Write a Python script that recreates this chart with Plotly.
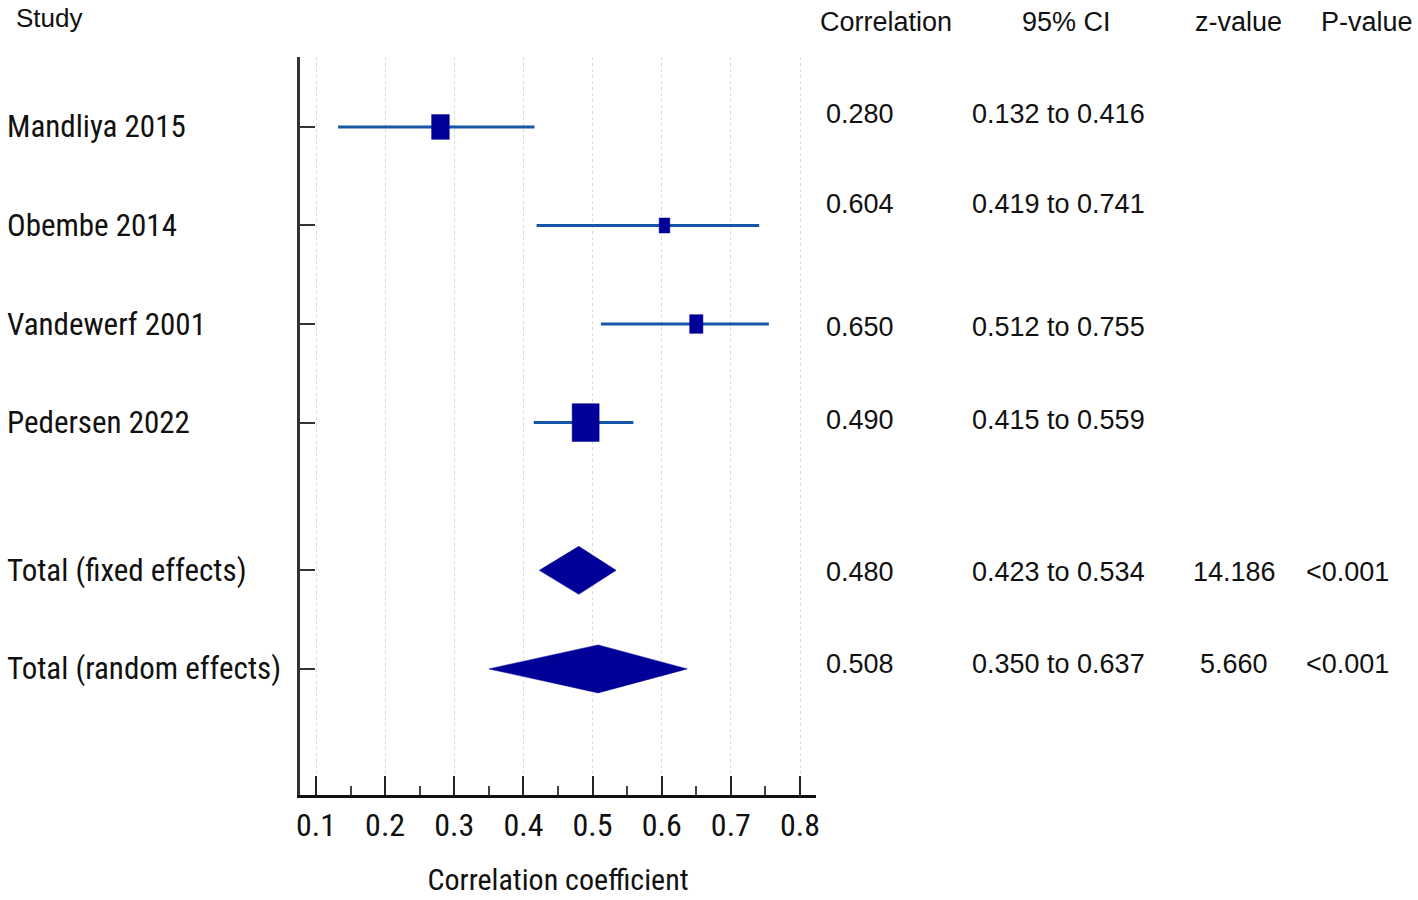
import plotly.graph_objects as go
import math

# ---------------- data ----------------
studies = ["Mandliya 2015", "Obembe 2014", "Vandewerf 2001", "Pedersen 2022"]
study_r = [0.280, 0.604, 0.650, 0.490]
study_lo = [0.132, 0.419, 0.512, 0.415]
study_hi = [0.416, 0.741, 0.755, 0.559]
study_weight = [23.5, 8.6, 13.3, 54.7]   # relative weights (%)

pooled = ["Total (fixed effects)", "Total (random effects)"]
pooled_r = [0.480, 0.508]
pooled_lo = [0.423, 0.350]
pooled_hi = [0.534, 0.637]
pooled_z = ["14.186", "5.660"]
pooled_p = ["<0.001", "<0.001"]

row_pos = [0, 1, 2, 3, 4.5, 5.5]
xticks = [0.1, 0.2, 0.3, 0.4, 0.5, 0.6, 0.7, 0.8]
headers = ["Correlation", "95% CI", "z-value", "P-value"]

# ---------------- layout geometry ----------------
W, H = 1418, 900
L, R, T, B = 300, 1418 - 816, 57, 900 - 795
XR = [0.07686, 0.82314]
YR = [6.78, -0.71]
pw = W - L - R
ph = H - T - B
px_per_x = pw / (XR[1] - XR[0])
px_per_y = ph / (YR[0] - YR[1])

def px_to_paper_x(px):
    return (px - L) / pw

def px_to_paper_y(py):
    return 1 - (py - T) / ph

BOX = "#000099"
LINE = "#1656a6"
narrow = "Roboto Condensed, Liberation Sans, sans-serif"
regular = "Liberation Sans, Arial, sans-serif"

fig = go.Figure()

for i in range(len(studies)):
    fig.add_trace(go.Scatter(
        x=[study_lo[i], study_hi[i]], y=[row_pos[i], row_pos[i]],
        mode="lines", line=dict(color=LINE, width=3),
        showlegend=False, hoverinfo="skip"))

box_k = 3.65
box_aspect = 1.4
for i in range(len(studies)):
    wpx = box_k * math.sqrt(study_weight[i])
    hpx = wpx * box_aspect
    hw = wpx / 2 / px_per_x
    hh = hpx / 2 / px_per_y
    c, r = study_r[i], row_pos[i]
    fig.add_trace(go.Scatter(
        x=[c - hw, c + hw, c + hw, c - hw, c - hw],
        y=[r - hh, r - hh, r + hh, r + hh, r - hh],
        mode="lines", fill="toself", fillcolor=BOX,
        line=dict(color=BOX, width=0.5),
        showlegend=False, hoverinfo="skip"))

dia_h = 24 / px_per_y
for j in range(len(pooled)):
    r = row_pos[len(studies) + j]
    fig.add_trace(go.Scatter(
        x=[pooled_lo[j], pooled_r[j], pooled_hi[j], pooled_r[j], pooled_lo[j]],
        y=[r, r - dia_h, r, r + dia_h, r],
        mode="lines", fill="toself", fillcolor=BOX,
        line=dict(color=BOX, width=0.5),
        showlegend=False, hoverinfo="skip"))

ann = []
ann.append(dict(text="Study", x=px_to_paper_x(14), y=px_to_paper_y(18),
                xanchor="left", yanchor="middle", font=dict(family=regular, size=26)))
header_px = [886, 1066, 1238, 1367]
for h, hx in zip(headers, header_px):
    ann.append(dict(text=h, x=px_to_paper_x(hx), y=px_to_paper_y(22),
                    xanchor="center", yanchor="middle", font=dict(family=regular, size=27)))

labels = studies + pooled
all_r = study_r + pooled_r
all_lo = study_lo + pooled_lo
all_hi = study_hi + pooled_hi
value_shift = [-13, -21, 3, -3, 2, -5]
for k, lab in enumerate(labels):
    ann.append(dict(text=lab, x=px_to_paper_x(5), xref="paper", y=row_pos[k], yref="y",
                    xanchor="left", yanchor="middle",
                    font=dict(family=narrow, size=31)))
    ann.append(dict(text="%.3f" % all_r[k], x=px_to_paper_x(860), xref="paper",
                    y=row_pos[k], yref="y", xanchor="center", yanchor="middle",
                    yshift=-value_shift[k], font=dict(family=regular, size=27)))
    ann.append(dict(text="%.3f to %.3f" % (all_lo[k], all_hi[k]), x=px_to_paper_x(1058),
                    xref="paper", y=row_pos[k], yref="y", xanchor="center",
                    yanchor="middle", yshift=-value_shift[k],
                    font=dict(family=regular, size=27)))
for j in range(len(pooled)):
    k = len(studies) + j
    ann.append(dict(text=pooled_z[j], x=px_to_paper_x(1234), xref="paper",
                    y=row_pos[k], yref="y", xanchor="center", yanchor="middle",
                    yshift=-value_shift[k], font=dict(family=regular, size=27)))
    ann.append(dict(text=pooled_p[j], x=px_to_paper_x(1347), xref="paper",
                    y=row_pos[k], yref="y", xanchor="center", yanchor="middle",
                    yshift=-value_shift[k], font=dict(family=regular, size=27)))

for a in ann:
    a.setdefault("xref", "paper")
    a.setdefault("yref", "paper")
    a["showarrow"] = False
    a["font"]["color"] = "#111111"

fig.update_layout(
    width=W, height=H, autosize=False,
    margin=dict(l=L, r=R, t=T, b=B, pad=0, autoexpand=False),
    paper_bgcolor="white", plot_bgcolor="white",
    annotations=ann,
    xaxis=dict(range=XR, tickvals=xticks, ticktext=[("%.1f" % v) for v in xticks],
               ticks="inside", ticklen=19, tickwidth=2, tickcolor="#222222",
               minor=dict(tickvals=[0.15, 0.25, 0.35, 0.45, 0.55, 0.65, 0.75],
                          ticks="inside", ticklen=9, tickwidth=1.5, tickcolor="#444444",
                          showgrid=False),
               showline=True, linecolor="#111111", linewidth=3,
               showgrid=True, gridcolor="#d8d8d8", griddash="dot", gridwidth=1,
               zeroline=False, ticklabelstandoff=0, automargin=False,
               tickfont=dict(family=narrow, size=32, color="#111111"),
               title=dict(text="Correlation coefficient", standoff=26,
                          font=dict(family=narrow, size=30, color="#111111"))),
    yaxis=dict(range=YR, tickvals=row_pos, showticklabels=False,
               ticks="inside", ticklen=15, tickwidth=2, tickcolor="#333333",
               showline=True, linecolor="#333333", linewidth=2.5,
               showgrid=False, zeroline=False, automargin=False),
)

fig.write_html("out.html", config={"displayModeBar": False},
               post_script="document.body.style.margin='0px';")
